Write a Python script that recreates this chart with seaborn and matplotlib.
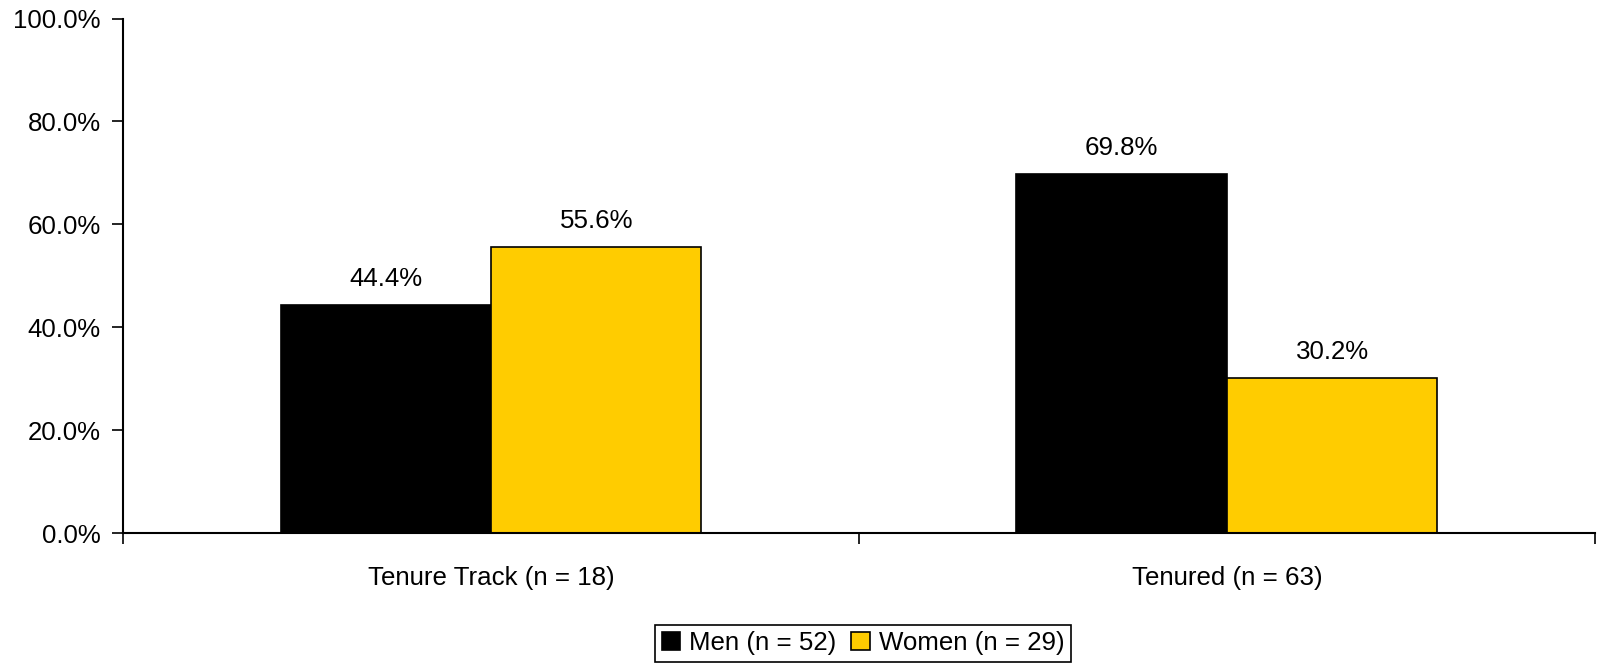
import pandas as pd
import matplotlib.pyplot as plt
import seaborn as sns
from matplotlib.ticker import FuncFormatter

# data
categories = ['Tenure Track (n = 18)', 'Tenured (n = 63)']
groups = ['Men (n = 52)', 'Women (n = 29)']
men = [44.4, 69.8]
women = [55.6, 30.2]

df = pd.DataFrame({
    'category': categories * 2,
    'group': [groups[0]] * 2 + [groups[1]] * 2,
    'pct': men + women,
})

sns.set_style('white')
plt.rcParams['font.family'] = ['Liberation Sans', 'DejaVu Sans']
plt.rcParams['text.color'] = 'black'
plt.rcParams['xtick.color'] = 'black'
plt.rcParams['ytick.color'] = 'black'
plt.rcParams['axes.labelcolor'] = 'black'
fs = 18.6

fig = plt.figure(figsize=(15.98, 6.63), dpi=100)
ax = fig.add_axes([0.077, 0.196, 0.921, 0.776])

sns.barplot(data=df, x='category', y='pct', hue='group', order=categories,
            hue_order=groups, palette=['#000000', '#FFCC00'], width=0.572,
            edgecolor='black', linewidth=1.2, saturation=1, ax=ax)

for cont in ax.containers:
    ax.bar_label(cont, fmt='%.1f%%', padding=10, fontsize=fs, color='black')

ax.set_ylim(0, 100)
ax.set_xlim(-0.5, 1.5)
ax.set_yticks([0, 20, 40, 60, 80, 100])
ax.yaxis.set_major_formatter(FuncFormatter(lambda v, p: f'{v:.1f}%'))
ax.set_xticks([-0.5, 0.5, 1.5], minor=True)
ax.tick_params(axis='x', which='major', bottom=True, length=0, pad=24, labelsize=fs,
               labelcolor='black')
ax.tick_params(axis='x', which='minor', bottom=True, length=8, width=1.2,
               direction='out', color='black')
ax.tick_params(axis='y', left=True, length=8, width=1.2, direction='out', color='black',
               labelsize=fs, labelcolor='black', pad=8)
ax.set_xlabel('')
ax.set_ylabel('')

sns.despine(ax=ax)
for s in ['left', 'bottom']:
    ax.spines[s].set_color('black')
    ax.spines[s].set_linewidth(1.5)

ax.get_legend().remove()
handles, labels = ax.get_legend_handles_labels()
leg = fig.legend(handles, labels, loc='lower center', bbox_to_anchor=(0.54, 0.0),
                 ncol=2, fontsize=fs, frameon=True, fancybox=False, framealpha=1,
                 handlelength=0.7, handleheight=0.7, handletextpad=0.35,
                 columnspacing=0.6, borderpad=0.25, borderaxespad=0.05)
leg.get_frame().set_edgecolor('black')
leg.get_frame().set_linewidth(1.2)

fig.savefig('out.png', dpi=100)
